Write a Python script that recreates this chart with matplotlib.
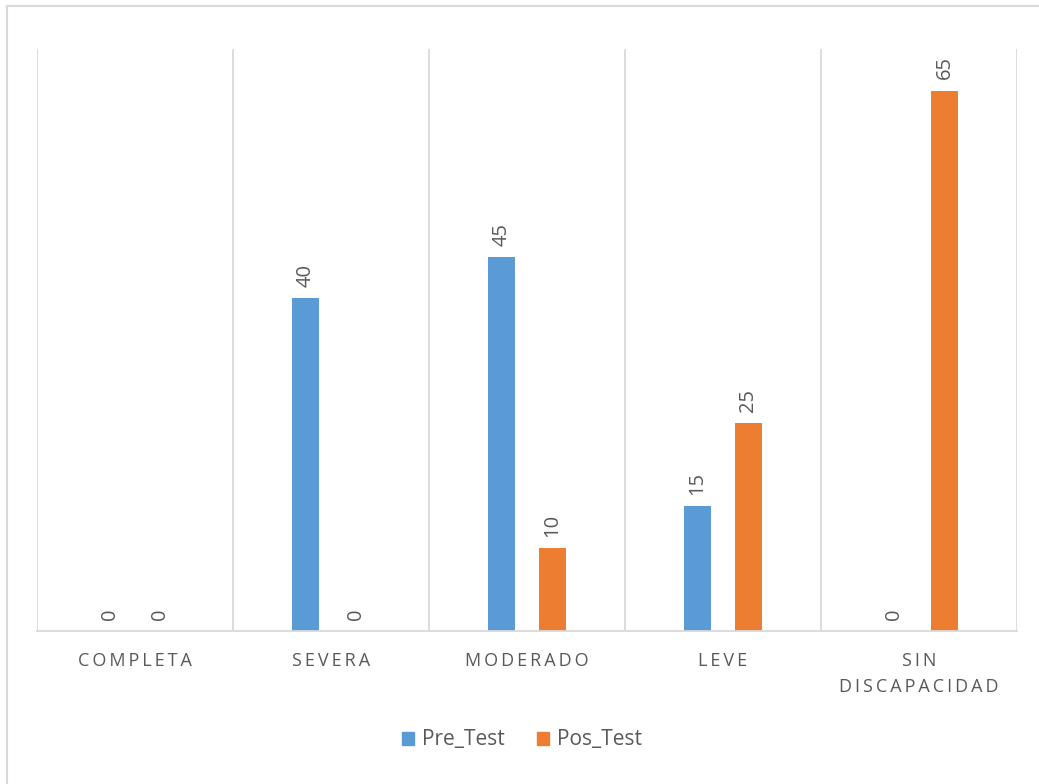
import matplotlib.pyplot as plt
from matplotlib.patches import Patch
from matplotlib.lines import Line2D
import numpy as np

categorias = ["COMPLETA", "SEVERA", "MODERADO", "LEVE", "SIN\nDISCAPACIDAD"]
pre_test = [0, 40, 45, 15, 0]
pos_test = [0, 0, 10, 25, 65]

azul = "#5B9BD5"
naranja = "#ED7D31"
gris_txt = "#595959"
gris_lin = "#D9D9D9"

plt.rcParams['font.family'] = ['Open Sans', 'DejaVu Sans']

def espaciar(s):
    # letter-spaced caps for the category axis
    return "\n".join("\u2009".join(ch for ch in linea) for linea in s.split("\n"))

fig = plt.figure(figsize=(10.39, 7.84), dpi=100)
ax = fig.add_axes([37 / 1039, 1 - 631 / 784, 980 / 1039, (631 - 49) / 784])

x = np.arange(len(categorias))
ancho = 0.138
off = 0.13
b1 = ax.bar(x - off, pre_test, ancho, color=azul, label="Pre_Test")
b2 = ax.bar(x + off, pos_test, ancho, color=naranja, label="Pos_Test")

for barras, vals in ((b1, pre_test), (b2, pos_test)):
    for b, v in zip(barras, vals):
        ax.annotate(str(v), (b.get_x() + b.get_width() / 2, v),
                    xytext=(0, 8), textcoords="offset points",
                    rotation=90, ha="center", va="bottom",
                    fontsize=14.5, color=gris_txt)

ax.set_xlim(-0.5, 4.5)
ax.set_ylim(0, 70)
ax.set_yticks([])
ax.set_xticks(x)
ax.set_xticklabels([espaciar(c) for c in categorias], fontsize=13,
                   color=gris_txt, linespacing=1.55)
ax.tick_params(axis="x", length=0, pad=15)
ax.set_xticks(np.arange(-0.5, 5, 1), minor=True)
ax.tick_params(axis="x", which="minor", length=0)
ax.grid(True, axis="x", which="minor", color=gris_lin, lw=1.3)
ax.set_axisbelow(True)
for s in ("top", "left", "right"):
    ax.spines[s].set_visible(False)
ax.spines["bottom"].set_color(gris_lin)
ax.spines["bottom"].set_linewidth(1.3)

# outer frame (top and left edges)
fig.add_artist(Line2D([7 / 1039, 7 / 1039], [0, 1 - 6 / 784], color=gris_lin, lw=1.5))
fig.add_artist(Line2D([7 / 1039, 1], [1 - 6 / 784, 1 - 6 / 784], color=gris_lin, lw=1.5))

handles = [Patch(color=azul), Patch(color=naranja)]
fig.legend(handles, ["Pre_Test", "Pos_Test"], loc="center",
           bbox_to_anchor=(522 / 1039, 1 - 740 / 784), ncol=2, frameon=False,
           fontsize=15, labelcolor=gris_txt, handlelength=0.6, handleheight=0.6,
           handletextpad=0.4, columnspacing=1.5)

fig.savefig("out.png", dpi=100, facecolor="white")
